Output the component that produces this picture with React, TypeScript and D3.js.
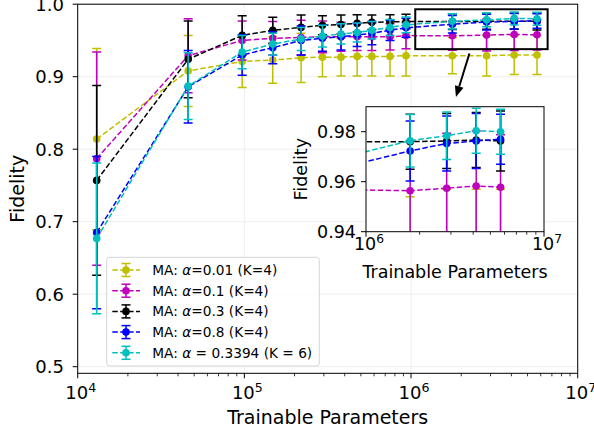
import React from 'react';
import * as d3 from 'd3';

// trainable parameter counts (x) shared by all runs
const params = [13000, 46000, 97000, 148000, 219000, 294000, 380000, 475000, 582000, 748000, 933000, 1770000, 2840000, 4160000, 5700000];

const fidA001 = [0.814, 0.908, 0.921, 0.923, 0.926, 0.927, 0.927, 0.928, 0.928, 0.928, 0.929, 0.929, 0.929, 0.930, 0.930];
const errA001 = [0.125, 0.049, 0.036, 0.032, 0.034, 0.027, 0.026, 0.027, 0.027, 0.027, 0.028, 0.025, 0.028, 0.027, 0.027];

const fidA01 = [0.787, 0.929, 0.950, 0.953, 0.954, 0.955, 0.955, 0.955, 0.955, 0.955, 0.9567, 0.9564, 0.9574, 0.9583, 0.9578];
const errA01 = [0.147, 0.051, 0.027, 0.023, 0.024, 0.022, 0.020, 0.019, 0.019, 0.018, 0.018, 0.020, 0.022, 0.022, 0.021];

const fidA03 = [0.757, 0.924, 0.957, 0.964, 0.968, 0.971, 0.972, 0.9735, 0.975, 0.9755, 0.976, 0.976, 0.9763, 0.9767, 0.9763];
const errA03 = [0.131, 0.053, 0.027, 0.018, 0.017, 0.013, 0.013, 0.012, 0.010, 0.010, 0.010, 0.011, 0.011, 0.011, 0.012];

const fidA08 = [0.685, 0.886, 0.930, 0.940, 0.950, 0.953, 0.955, 0.9575, 0.960, 0.964, 0.9675, 0.9723, 0.9753, 0.9763, 0.977];
const errA08 = [0.105, 0.050, 0.028, 0.022, 0.020, 0.018, 0.018, 0.016, 0.016, 0.014, 0.013, 0.012, 0.011, 0.011, 0.010];

const fidK6 = [0.677, 0.887, 0.934, 0.945, 0.952, 0.956, 0.959, 0.961, 0.964, 0.968, 0.9715, 0.9764, 0.9784, 0.9804, 0.980];
const errK6 = [0.104, 0.046, 0.023, 0.015, 0.016, 0.015, 0.014, 0.013, 0.012, 0.011, 0.011, 0.0105, 0.0095, 0.009, 0.009];

const yTicks = [0.5, 0.6, 0.7, 0.8, 0.9, 1.0];
const xTickExps = [4, 5, 6, 7];
const insetYTicks = [0.94, 0.96, 0.98];
const insetXTickExps = [6, 7];

// zoom box + arrow, in data coords
const zoomBoxX = [1.06e6, 6.6e6];
const zoomBoxY = [0.938, 0.993];
const arrowFrom = [2.24e6, 0.932];
const arrowTo = [1.86e6, 0.872];

const series = [
  { label: ['MA: ', 'α', '=0.01 (K=4)'], color: '#bfbf00', y: fidA001, err: errA001 },
  { label: ['MA: ', 'α', '=0.1 (K=4)'], color: '#bf00bf', y: fidA01, err: errA01 },
  { label: ['MA: ', 'α', '=0.3 (K=4)'], color: '#000000', y: fidA03, err: errA03 },
  { label: ['MA: ', 'α', '=0.8 (K=4)'], color: '#0000ff', y: fidA08, err: errA08 },
  { label: ['MA: ', 'α', ' = 0.3394 (K = 6)'], color: '#00bfbf', y: fidK6, err: errK6 },
];

const W = 594, H = 431;
const font = 'DejaVu Sans, sans-serif';

function minorTicks(lo: number, hi: number) {
  const out: number[] = [];
  for (let e = lo; e < hi; e++) for (let m = 2; m < 10; m++) out.push(m * Math.pow(10, e));
  return out;
}

function Series({ s, x, y, clip }: any) {
  const line = d3.line<number>().x((_, i) => x(params[i])).y(d => y(d));
  return (
    <g clipPath={clip}>
      {s.y.map((v: number, i: number) => {
        const cx = x(params[i]);
        return (
          <g key={i} stroke={s.color} strokeWidth={1.5}>
            <line x1={cx} x2={cx} y1={y(v - s.err[i])} y2={y(v + s.err[i])} />
            <line x1={cx - 4.5} x2={cx + 4.5} y1={y(v - s.err[i])} y2={y(v - s.err[i])} />
            <line x1={cx - 4.5} x2={cx + 4.5} y1={y(v + s.err[i])} y2={y(v + s.err[i])} />
          </g>
        );
      })}
      <path d={line(s.y) || ''} fill="none" stroke={s.color} strokeWidth={1.5} strokeDasharray="5.5,2.4" />
      {s.y.map((v: number, i: number) => (
        <circle key={i} cx={x(params[i])} cy={y(v)} r={3.8} fill={s.color} />
      ))}
    </g>
  );
}

function Pow10({ x, y, e, size }: any) {
  return (
    <text x={x} y={y} textAnchor="middle" fontSize={size} fontFamily={font} fill="#000">
      10<tspan fontSize={size * 0.7} dy={-size * 0.38}>{e}</tspan>
    </text>
  );
}

export default function App() {
  const x = d3.scaleLog().domain([1e4, 1e7]).range([77.7, 577.7]);
  const y = d3.scaleLinear().domain([0.4909, 1.0]).range([373.3, 4.2]);
  const ix = d3.scaleLog().domain([1e6, 1e7]).range([366, 544]);
  const iy = d3.scaleLinear().domain([0.94, 0.99]).range([231.7, 106.7]);

  const [x0, x1] = x.range();
  const [yb, yt] = y.range();
  const [ix0, ix1] = ix.range();
  const [iyb, iyt] = iy.range();

  const ax = x(arrowFrom[0]), ay = y(arrowFrom[1]);
  const bx = x(arrowTo[0]), by = y(arrowTo[1]);
  const ang = Math.atan2(by - ay, bx - ax);
  const headL = 11, headW = 4.5;
  const hx = bx - headL * Math.cos(ang), hy = by - headL * Math.sin(ang);
  const head = [
    [bx, by],
    [hx + headW * Math.sin(ang), hy - headW * Math.cos(ang)],
    [hx - headW * Math.sin(ang), hy + headW * Math.cos(ang)],
  ];

  return (
    <svg width={W} height={H} style={{ position: 'absolute', left: 0, top: 0 }}>
      <rect width={W} height={H} fill="#fff" />
      <defs>
        <clipPath id="main"><rect x={x0} y={yt} width={x1 - x0} height={yb - yt} /></clipPath>
        <clipPath id="inset"><rect x={ix0} y={iyt} width={ix1 - ix0} height={iyb - iyt} /></clipPath>
      </defs>

      {/* grid */}
      <g stroke="#ebebeb" strokeWidth={0.8}>
        {yTicks.map(t => <line key={t} x1={x0} x2={x1} y1={y(t)} y2={y(t)} />)}
        {xTickExps.map(e => <line key={e} x1={x(10 ** e)} x2={x(10 ** e)} y1={yt} y2={yb} />)}
      </g>

      {series.map((s, i) => <Series key={i} s={s} x={x} y={y} clip="url(#main)" />)}

      {/* zoom box and arrow */}
      <rect x={x(zoomBoxX[0])} y={y(zoomBoxY[1])} width={x(zoomBoxX[1]) - x(zoomBoxX[0])}
        height={y(zoomBoxY[0]) - y(zoomBoxY[1])} fill="none" stroke="#000" strokeWidth={2} />
      <line x1={ax} y1={ay} x2={hx} y2={hy} stroke="#000" strokeWidth={2} />
      <polygon points={head.map(p => p.join(',')).join(' ')} fill="#000" />

      {/* main axes */}
      <rect x={x0} y={yt} width={x1 - x0} height={yb - yt} fill="none" stroke="#000" strokeWidth={1} />
      <g stroke="#000" strokeWidth={1}>
        {yTicks.map(t => <line key={t} x1={x0 - 5} x2={x0} y1={y(t)} y2={y(t)} />)}
        {xTickExps.map(e => <line key={e} x1={x(10 ** e)} x2={x(10 ** e)} y1={yb} y2={yb + 5} />)}
        {minorTicks(4, 7).map(t => <line key={t} x1={x(t)} x2={x(t)} y1={yb} y2={yb + 3} strokeWidth={0.8} />)}
      </g>
      {yTicks.map(t => (
        <text key={t} x={64} y={y(t) + 6.5} textAnchor="end" fontSize={18} fontFamily={font}>{t.toFixed(1)}</text>
      ))}
      {xTickExps.map(e => <Pow10 key={e} x={x(10 ** e) + 3} y={399.3} e={e} size={18} />)}
      <text x={(x0 + x1) / 2} y={424} textAnchor="middle" fontSize={19} fontFamily={font}>Trainable Parameters</text>
      <text transform={`translate(24,${(yt + yb) / 2}) rotate(-90)`} textAnchor="middle" fontSize={19} fontFamily={font}>Fidelity</text>

      {/* legend */}
      <rect x={106.7} y={257.3} width={212.6} height={108.7} rx={3} fill="#fff" fillOpacity={0.8} stroke="#d5d5d5" strokeWidth={1} />
      {series.map((s, i) => {
        const ry = 270 + i * 20.7;
        return (
          <g key={i}>
            <line x1={112.3} x2={140} y1={ry} y2={ry} stroke={s.color} strokeWidth={1.5} strokeDasharray="5.5,2.4" />
            <g stroke={s.color} strokeWidth={1.5}>
              <line x1={126} x2={126} y1={ry - 6.5} y2={ry + 6.5} />
              <line x1={121.5} x2={130.5} y1={ry - 6.5} y2={ry - 6.5} />
              <line x1={121.5} x2={130.5} y1={ry + 6.5} y2={ry + 6.5} />
            </g>
            <circle cx={126} cy={ry} r={3.8} fill={s.color} />
            <text x={152.3} y={ry + 5} fontSize={13.7} fontFamily={font}>
              {s.label[0]}<tspan fontStyle="italic">{s.label[1]}</tspan>{s.label[2]}
            </text>
          </g>
        );
      })}

      {/* inset */}
      <rect x={ix0} y={iyt} width={ix1 - ix0} height={iyb - iyt} fill="#fff" />
      {series.map((s, i) => <Series key={i} s={s} x={ix} y={iy} clip="url(#inset)" />)}
      <rect x={ix0} y={iyt} width={ix1 - ix0} height={iyb - iyt} fill="none" stroke="#000" strokeWidth={1} />
      <g stroke="#000" strokeWidth={1}>
        {insetYTicks.map(t => <line key={t} x1={ix0 - 5} x2={ix0} y1={iy(t)} y2={iy(t)} />)}
        {insetXTickExps.map(e => <line key={e} x1={ix(10 ** e)} x2={ix(10 ** e)} y1={iyb} y2={iyb + 5} />)}
        {minorTicks(6, 7).map(t => <line key={t} x1={ix(t)} x2={ix(t)} y1={iyb} y2={iyb + 3} strokeWidth={0.8} />)}
      </g>
      {insetYTicks.map(t => (
        <text key={t} x={356} y={iy(t) + 6.3} textAnchor="end" fontSize={17.5} fontFamily={font}>{t.toFixed(2)}</text>
      ))}
      {insetXTickExps.map(e => <Pow10 key={e} x={ix(10 ** e) + 3} y={250} e={e} size={17.5} />)}
      <text x={(ix0 + ix1) / 2} y={277.7} textAnchor="middle" fontSize={17.5} fontFamily={font}>Trainable Parameters</text>
      <text transform={`translate(307,${(iyt + iyb) / 2}) rotate(-90)`} textAnchor="middle" fontSize={17.5} fontFamily={font}>Fidelity</text>
    </svg>
  );
}
